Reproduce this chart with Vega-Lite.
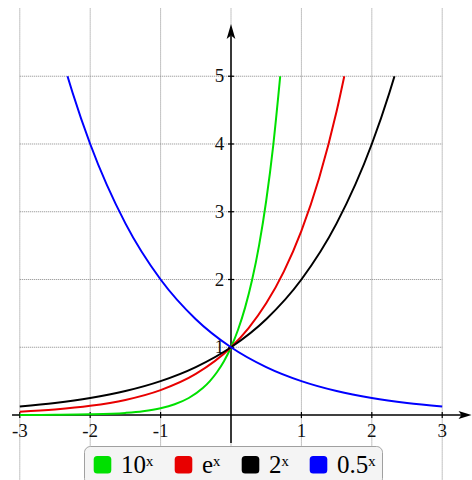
{
  "$schema": "https://vega.github.io/schema/vega-lite/v6.json",
  "width": 472,
  "height": 480,
  "autosize": "none",
  "padding": 0,
  "background": "white",
  "config": {"view": {"stroke": null}},
  "datasets": {
    "curves": [
      {"f": "10ˣ", "x": -3, "y": 0.001}, {"f": "10ˣ", "x": -2.5, "y": 0.0032}, {"f": "10ˣ", "x": -2, "y": 0.01},
      {"f": "10ˣ", "x": -1.5, "y": 0.0316}, {"f": "10ˣ", "x": -1.25, "y": 0.0562}, {"f": "10ˣ", "x": -1, "y": 0.1},
      {"f": "10ˣ", "x": -0.8, "y": 0.1585}, {"f": "10ˣ", "x": -0.6, "y": 0.2512}, {"f": "10ˣ", "x": -0.4, "y": 0.3981},
      {"f": "10ˣ", "x": -0.3, "y": 0.5012}, {"f": "10ˣ", "x": -0.2, "y": 0.631}, {"f": "10ˣ", "x": -0.1, "y": 0.7943},
      {"f": "10ˣ", "x": 0, "y": 1}, {"f": "10ˣ", "x": 0.1, "y": 1.2589}, {"f": "10ˣ", "x": 0.2, "y": 1.5849},
      {"f": "10ˣ", "x": 0.3, "y": 1.9953}, {"f": "10ˣ", "x": 0.4, "y": 2.5119}, {"f": "10ˣ", "x": 0.5, "y": 3.1623},
      {"f": "10ˣ", "x": 0.6, "y": 3.9811}, {"f": "10ˣ", "x": 0.699, "y": 5},
      {"f": "eˣ", "x": -3, "y": 0.0498}, {"f": "eˣ", "x": -2.5, "y": 0.0821}, {"f": "eˣ", "x": -2, "y": 0.1353},
      {"f": "eˣ", "x": -1.5, "y": 0.2231}, {"f": "eˣ", "x": -1, "y": 0.3679}, {"f": "eˣ", "x": -0.5, "y": 0.6065},
      {"f": "eˣ", "x": 0, "y": 1}, {"f": "eˣ", "x": 0.25, "y": 1.284}, {"f": "eˣ", "x": 0.5, "y": 1.6487},
      {"f": "eˣ", "x": 0.75, "y": 2.117}, {"f": "eˣ", "x": 1, "y": 2.7183}, {"f": "eˣ", "x": 1.25, "y": 3.4903},
      {"f": "eˣ", "x": 1.5, "y": 4.4817}, {"f": "eˣ", "x": 1.609, "y": 5},
      {"f": "2ˣ", "x": -3, "y": 0.125}, {"f": "2ˣ", "x": -2.5, "y": 0.1768}, {"f": "2ˣ", "x": -2, "y": 0.25},
      {"f": "2ˣ", "x": -1.5, "y": 0.3536}, {"f": "2ˣ", "x": -1, "y": 0.5}, {"f": "2ˣ", "x": -0.5, "y": 0.7071},
      {"f": "2ˣ", "x": 0, "y": 1}, {"f": "2ˣ", "x": 0.5, "y": 1.4142}, {"f": "2ˣ", "x": 1, "y": 2},
      {"f": "2ˣ", "x": 1.5, "y": 2.8284}, {"f": "2ˣ", "x": 2, "y": 4}, {"f": "2ˣ", "x": 2.25, "y": 4.7568},
      {"f": "2ˣ", "x": 2.322, "y": 5},
      {"f": "0.5ˣ", "x": -2.322, "y": 5}, {"f": "0.5ˣ", "x": -2.25, "y": 4.7568}, {"f": "0.5ˣ", "x": -2, "y": 4},
      {"f": "0.5ˣ", "x": -1.5, "y": 2.8284}, {"f": "0.5ˣ", "x": -1, "y": 2}, {"f": "0.5ˣ", "x": -0.5, "y": 1.4142},
      {"f": "0.5ˣ", "x": 0, "y": 1}, {"f": "0.5ˣ", "x": 0.5, "y": 0.7071}, {"f": "0.5ˣ", "x": 1, "y": 0.5},
      {"f": "0.5ˣ", "x": 1.5, "y": 0.3536}, {"f": "0.5ˣ", "x": 2, "y": 0.25}, {"f": "0.5ˣ", "x": 2.5, "y": 0.1768},
      {"f": "0.5ˣ", "x": 3, "y": 0.125}
    ],
    "xticks": [
      {"v": -3, "t": "-3"}, {"v": -2, "t": "-2"}, {"v": -1, "t": "-1"},
      {"v": 1, "t": "1"}, {"v": 2, "t": "2"}, {"v": 3, "t": "3"}
    ],
    "yticks": [
      {"v": 1, "t": "1"}, {"v": 2, "t": "2"}, {"v": 3, "t": "3"}, {"v": 4, "t": "4"}, {"v": 5, "t": "5"}
    ],
    "xgrid": [{"v": -3}, {"v": -2}, {"v": -1}, {"v": 0}, {"v": 1}, {"v": 2}, {"v": 3}]
  },
  "layer": [
    {
      "data": {"name": "xgrid"},
      "mark": {"type": "rule", "color": "#888888", "strokeWidth": 1, "strokeDash": [1, 1]},
      "encoding": {
        "x": {"field": "v", "type": "quantitative", "axis": null,
              "scale": {"domain": [-3.281, 3.423], "nice": false, "zero": false}},
        "y": {"datum": 6.0, "type": "quantitative", "axis": null,
              "scale": {"domain": [-0.959, 6.125], "nice": false, "zero": false}},
        "y2": {"datum": -0.96}
      }
    },
    {
      "data": {"name": "yticks"},
      "mark": {"type": "rule", "color": "#888888", "strokeWidth": 1, "strokeDash": [1, 1]},
      "encoding": {
        "y": {"field": "v", "type": "quantitative", "axis": null},
        "x": {"datum": -3, "type": "quantitative", "axis": null},
        "x2": {"datum": 3}
      }
    },
    {
      "data": {"values": [{}]},
      "mark": {"type": "rule", "color": "#000", "strokeWidth": 1.5},
      "encoding": {
        "x": {"datum": -3.11, "type": "quantitative", "axis": null},
        "x2": {"datum": 3.3},
        "y": {"datum": 0, "type": "quantitative", "axis": null}
      }
    },
    {
      "data": {"values": [{}]},
      "mark": {"type": "rule", "color": "#000", "strokeWidth": 1.5},
      "encoding": {
        "y": {"datum": -0.413, "type": "quantitative", "axis": null},
        "y2": {"datum": 5.6},
        "x": {"datum": 0, "type": "quantitative", "axis": null}
      }
    },
    {
      "data": {"values": [{}]},
      "mark": {"type": "point", "filled": true, "color": "#000", "opacity": 1, "size": 169,
               "shape": "M1,0L-1,-0.62L-0.55,0L-1,0.62Z"},
      "encoding": {
        "x": {"datum": 3.324, "type": "quantitative", "axis": null},
        "y": {"datum": 0, "type": "quantitative", "axis": null}
      }
    },
    {
      "data": {"values": [{}]},
      "mark": {"type": "point", "filled": true, "color": "#000", "opacity": 1, "size": 225,
               "shape": "M0,-1L-0.58,1L0,0.55L0.58,1Z"},
      "encoding": {
        "x": {"datum": 0, "type": "quantitative", "axis": null},
        "y": {"datum": 5.661, "type": "quantitative", "axis": null}
      }
    },
    {
      "data": {"name": "xticks"},
      "mark": {"type": "rule", "color": "#000", "strokeWidth": 1.2},
      "encoding": {
        "x": {"field": "v", "type": "quantitative", "axis": null},
        "y": {"datum": -0.045, "type": "quantitative", "axis": null},
        "y2": {"datum": 0.045}
      }
    },
    {
      "data": {"name": "yticks"},
      "mark": {"type": "rule", "color": "#000", "strokeWidth": 1.2},
      "encoding": {
        "y": {"field": "v", "type": "quantitative", "axis": null},
        "x": {"datum": -0.043, "type": "quantitative", "axis": null},
        "x2": {"datum": 0.043}
      }
    },
    {
      "data": {"name": "xticks"},
      "mark": {"type": "text", "font": "Liberation Serif", "fontSize": 19, "color": "#111",
               "align": "center", "baseline": "middle"},
      "encoding": {
        "x": {"field": "v", "type": "quantitative", "axis": null},
        "y": {"datum": -0.23, "type": "quantitative", "axis": null},
        "text": {"field": "t"}
      }
    },
    {
      "data": {"name": "yticks"},
      "mark": {"type": "text", "font": "Liberation Serif", "fontSize": 19, "color": "#111",
               "align": "right", "baseline": "middle"},
      "encoding": {
        "y": {"field": "v", "type": "quantitative", "axis": null},
        "x": {"datum": -0.095, "type": "quantitative", "axis": null},
        "text": {"field": "t"}
      }
    },
    {
      "data": {"name": "curves"},
      "mark": {"type": "line", "strokeWidth": 2, "interpolate": "monotone"},
      "encoding": {
        "x": {"field": "x", "type": "quantitative", "axis": null},
        "y": {"field": "y", "type": "quantitative", "axis": null},
        "color": {
          "field": "f", "type": "nominal",
          "scale": {"domain": ["10ˣ", "eˣ", "2ˣ", "0.5ˣ"], "range": ["#00e000", "#e80000", "#000000", "#0000ff"]},
          "legend": {
            "title": null, "orient": "none", "legendX": 84, "legendY": 446, "direction": "horizontal",
            "fillColor": "#f4f4f4", "strokeColor": "#a0a0a0", "cornerRadius": 6, "padding": 6,
            "labelFont": "Liberation Serif", "labelFontSize": 25, "labelColor": "#000",
            "labelOffset": 6, "columnPadding": 17,
            "symbolType": "M-0.6,-1L0.6,-1Q1,-1 1,-0.6L1,0.6Q1,1 0.6,1L-0.6,1Q-1,1 -1,0.6L-1,-0.6Q-1,-1 -0.6,-1Z",
            "symbolSize": 310, "symbolStrokeWidth": 0, "symbolOpacity": 1,
            "encode": {"symbols": {"update": {"fill": {"scale": "color", "field": "value"}, "fillOpacity": {"value": 1}, "strokeWidth": {"value": 0}}}}
          }
        }
      }
    }
  ]
}
